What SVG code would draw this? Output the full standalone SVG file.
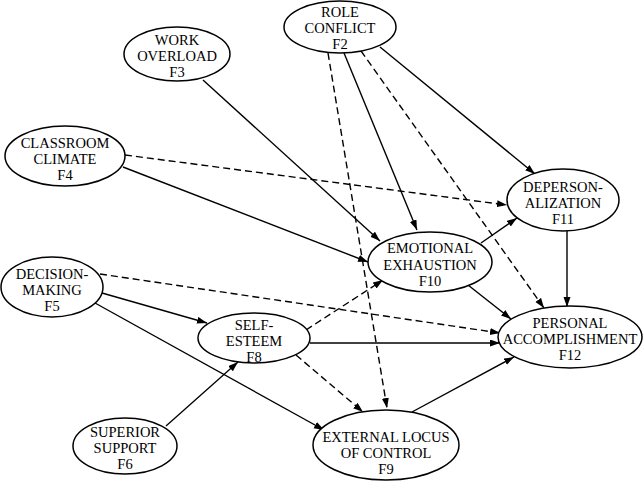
<svg xmlns="http://www.w3.org/2000/svg" width="644" height="482" viewBox="0 0 644 482">
<style>
.n ellipse{fill:#fff;stroke:#000;stroke-width:1.5}
.n text{font-family:"Liberation Serif","Times New Roman",serif;font-size:14.5px;text-anchor:middle;fill:#000}
.c line{stroke:#000;stroke-width:1.4;fill:none;marker-end:url(#ah)}
.c .d{stroke-dasharray:7 4}
</style>
<defs>
<marker id="ah" markerUnits="userSpaceOnUse" markerWidth="11" markerHeight="8" refX="10" refY="3.5" orient="auto">
<path d="M0,0 L10,3.5 L0,7 z" fill="#000"/>
</marker>
</defs>
<g id="connectors" class="c">
<line x1="203" y1="80" x2="380" y2="241"/>
<line x1="123" y1="167" x2="368" y2="262"/>
<line class="d" x1="125" y1="155" x2="507" y2="205"/>
<line x1="344" y1="53" x2="417" y2="230"/>
<line class="d" x1="328" y1="53" x2="387" y2="408"/>
<line class="d" x1="361" y1="51" x2="544" y2="308"/>
<line x1="380" y1="47" x2="535" y2="174"/>
<line x1="481" y1="243" x2="517" y2="218"/>
<line x1="468" y1="285" x2="511" y2="319"/>
<line x1="567" y1="231" x2="567" y2="307"/>
<line class="d" x1="100" y1="274" x2="500" y2="333"/>
<line x1="102" y1="293" x2="207" y2="323"/>
<line x1="95" y1="303" x2="324" y2="430"/>
<line x1="166" y1="426" x2="238" y2="362"/>
<line class="d" x1="306" y1="330" x2="383" y2="280"/>
<line x1="310" y1="343" x2="500" y2="343"/>
<line class="d" x1="296" y1="355" x2="363" y2="412"/>
<line x1="412" y1="412" x2="514" y2="357"/>
</g>
<g id="F2" class="n"><ellipse cx="340" cy="27" rx="56" ry="26"/><text x="340" y="17">ROLE</text><text x="340" y="33">CONFLICT</text><text x="340" y="49">F2</text></g>
<g id="F3" class="n"><ellipse cx="177" cy="54" rx="53" ry="27"/><text x="177" y="45">WORK</text><text x="177" y="61">OVERLOAD</text><text x="177" y="77">F3</text></g>
<g id="F4" class="n"><ellipse cx="65" cy="156" rx="60" ry="30"/><text x="65" y="148">CLASSROOM</text><text x="65" y="164">CLIMATE</text><text x="65" y="180">F4</text></g>
<g id="F5" class="n"><ellipse cx="52" cy="287" rx="51" ry="30"/><text x="52" y="279">DECISION-</text><text x="52" y="295">MAKING</text><text x="52" y="311">F5</text></g>
<g id="F6" class="n"><ellipse cx="125" cy="446" rx="52" ry="28"/><text x="125" y="437">SUPERIOR</text><text x="125" y="453">SUPPORT</text><text x="125" y="469">F6</text></g>
<g id="F8" class="n"><ellipse cx="254" cy="338" rx="56" ry="25"/><text x="254" y="330">SELF-</text><text x="254" y="346">ESTEEM</text><text x="254" y="362">F8</text></g>
<g id="F9" class="n"><ellipse cx="386" cy="445" rx="73" ry="35"/><text x="386" y="442">EXTERNAL LOCUS</text><text x="386" y="458">OF CONTROL</text><text x="386" y="474">F9</text></g>
<g id="F10" class="n"><ellipse cx="430" cy="262" rx="62" ry="30"/><text x="430" y="253">EMOTIONAL</text><text x="430" y="270">EXHAUSTION</text><text x="430" y="286">F10</text></g>
<g id="F11" class="n"><ellipse cx="563" cy="200" rx="56" ry="31"/><text x="563" y="192">DEPERSON-</text><text x="563" y="208">ALIZATION</text><text x="563" y="224">F11</text></g>
<g id="F12" class="n"><ellipse cx="570" cy="337" rx="72" ry="31"/><text x="570" y="328">PERSONAL</text><text x="570" y="344">ACCOMPLISHMENT</text><text x="570" y="360">F12</text></g>
</svg>
